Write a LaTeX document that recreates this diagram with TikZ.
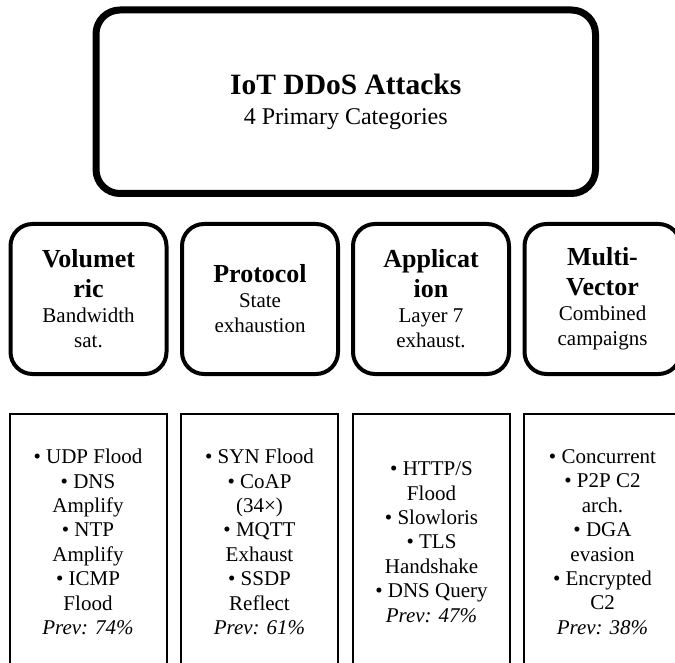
\documentclass[tikz,border=0pt]{standalone}
\usepackage{fontspec}
\setmainfont{Liberation Serif}
\newcommand{\tbig}{\fontsize{26}{30}\selectfont\bfseries}
\newcommand{\ttitle}{\fontsize{29.5}{33}\selectfont\bfseries}
\tikzset{
  topbox/.style={draw=black, line width=7pt, rounded corners=24pt, inner sep=0pt,
    minimum width=499.5pt, minimum height=183.5pt, align=center,
    font=\fontsize{24}{28}\selectfont},
  catbox/.style={draw=black, line width=4pt, rounded corners=22pt, inner sep=0pt,
    minimum width=156pt, minimum height=150pt, align=center,
    font=\fontsize{21}{25}\selectfont},
  listbox/.style={draw=black, line width=2pt, inner sep=0pt,
    minimum width=157pt, minimum height=256pt, align=center,
    font=\fontsize{21}{24.4}\selectfont},
}
\begin{document}
\begin{tikzpicture}[x=1pt,y=-1pt]
\useasboundingbox (0,0) rectangle (675,663);
\clip (0,0) rectangle (675,663);
\fill[white] (0,0) rectangle (675,663);

\node[topbox] (top) at (345.75,101.75) {\ttitle IoT DDoS Attacks\\[2pt]4 Primary Categories};

\node[catbox] (vol) at (88.5,299) {\tbig Volumet\\[5pt]\tbig ric\\Bandwidth\\sat.};
\node[catbox] (pro) at (260,299) {\tbig Protocol\\State\\exhaustion};
\node[catbox] (app) at (431,299) {\tbig Applicat\\[5pt]\tbig ion\\Layer 7\\exhaust.};
\node[catbox] (mul) at (602.5,299) {\tbig Multi-\\[5pt]\tbig Vector\\Combined\\campaigns};

\node[listbox] (lvol) at (88,542) {\textbullet{} UDP Flood\\\textbullet{} DNS\\Amplify\\\textbullet{} NTP\\Amplify\\\textbullet{} ICMP\\Flood\\\itshape Prev: 74\%};
\node[listbox] (lpro) at (259.5,542) {\textbullet{} SYN Flood\\\textbullet{} CoAP\\(34×)\\\textbullet{} MQTT\\Exhaust\\\textbullet{} SSDP\\Reflect\\\itshape Prev: 61\%};
\node[listbox] (lapp) at (431.5,542) {\textbullet{} HTTP/S\\Flood\\\textbullet{} Slowloris\\\textbullet{} TLS\\Handshake\\\textbullet{} DNS Query\\\itshape Prev: 47\%};
\node[listbox] (lmul) at (602.5,542) {\textbullet{} Concurrent\\\textbullet{} P2P C2\\arch.\\\textbullet{} DGA\\evasion\\\textbullet{} Encrypted\\C2\\\itshape Prev: 38\%};
\end{tikzpicture}
\end{document}
